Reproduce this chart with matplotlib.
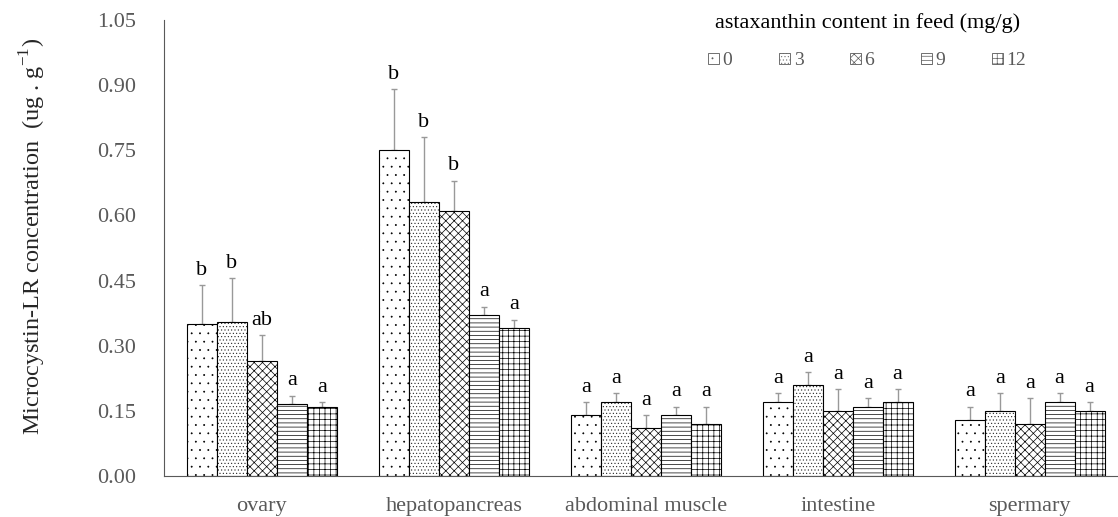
import numpy as np
import matplotlib.pyplot as plt
from matplotlib import hatch as mhatch

plt.rcParams['font.family'] = ['Liberation Serif', 'DejaVu Serif']
plt.rcParams['hatch.linewidth'] = 0.5
# finer dots than the default '.' hatch
mhatch.SmallFilledCircles.size = 0.07

tissues = ['ovary', 'hepatopancreas', 'abdominal muscle', 'intestine', 'spermary']
doses = ['0', '3', '6', '9', '12']

# mean values per dose (rows) across tissues (columns)
means = [
    [0.350, 0.750, 0.140, 0.170, 0.130],
    [0.355, 0.630, 0.170, 0.210, 0.150],
    [0.265, 0.610, 0.110, 0.150, 0.120],
    [0.165, 0.370, 0.140, 0.160, 0.170],
    [0.160, 0.340, 0.120, 0.170, 0.150],
]
errors = [
    [0.090, 0.140, 0.030, 0.020, 0.030],
    [0.100, 0.150, 0.020, 0.030, 0.040],
    [0.060, 0.070, 0.030, 0.050, 0.060],
    [0.020, 0.020, 0.020, 0.020, 0.020],
    [0.010, 0.020, 0.040, 0.030, 0.020],
]
letters = [
    ['b', 'b', 'a', 'a', 'a'],
    ['b', 'b', 'a', 'a', 'a'],
    ['ab', 'b', 'a', 'a', 'a'],
    ['a', 'a', 'a', 'a', 'a'],
    ['a', 'a', 'a', 'a', 'a'],
]

hatches = ['..', '.....', 'xxxx', '----', '+++']
GRAY = '#595959'

fig = plt.figure(figsize=(11.18, 5.17), dpi=100)
ax = fig.add_axes([0.1467, 0.0793, 0.8533, 0.882])

x = np.arange(len(tissues))
width = 0.156
for i, dose in enumerate(doses):
    pos = x + (i - 2) * width
    ax.bar(pos, means[i], width, color='white', edgecolor='black',
           linewidth=0.8, hatch=hatches[i], label=dose, zorder=2)
    ax.errorbar(pos, means[i], yerr=[np.zeros(len(tissues)), errors[i]],
                fmt='none', ecolor='#999999', elinewidth=1, capsize=2.5,
                capthick=1, zorder=1)
    for p, m, e, t in zip(pos, means[i], errors[i], letters[i]):
        ax.text(p, m + e + 0.012, t, ha='center', va='bottom', fontsize=16)

ax.set_xlim(-0.51, 4.46)
ax.set_ylim(0, 1.05)
yt = np.arange(0, 1.051, 0.15)
ax.set_yticks(yt)
ax.set_yticklabels([f'{v:.2f}' for v in yt])
ax.set_xticks(x)
ax.set_xticklabels(tissues)
ax.tick_params(axis='both', length=0, labelsize=16, colors=GRAY)
ax.tick_params(axis='x', pad=15)
ax.tick_params(axis='y', pad=20)

for s in ['top', 'right']:
    ax.spines[s].set_visible(False)
ax.spines['left'].set_color(GRAY)
ax.spines['bottom'].set_color(GRAY)

ax.set_ylabel(r'Microcystin-LR concentration  (ug . g$^{\mathregular{-1}}$)',
              fontsize=17.5, color='#262626')
ax.yaxis.set_label_coords(-0.122, 0.526)

leg = fig.legend(*ax.get_legend_handles_labels(),
                 title='astaxanthin content in feed (mg/g)', ncol=5,
                 loc='upper left', bbox_to_anchor=(708 / 1118, 0.975),
                 frameon=False, borderpad=0, borderaxespad=0, labelspacing=1.0,
                 fontsize=14, title_fontsize=16, handlelength=0.55,
                 handleheight=0.55, handletextpad=0.2, columnspacing=2.4)
for t in leg.get_texts():
    t.set_color(GRAY)
for h in leg.legend_handles:
    h.set_linewidth(0.6)
    h.set_edgecolor(GRAY)

fig.savefig('out.png', dpi=100)
